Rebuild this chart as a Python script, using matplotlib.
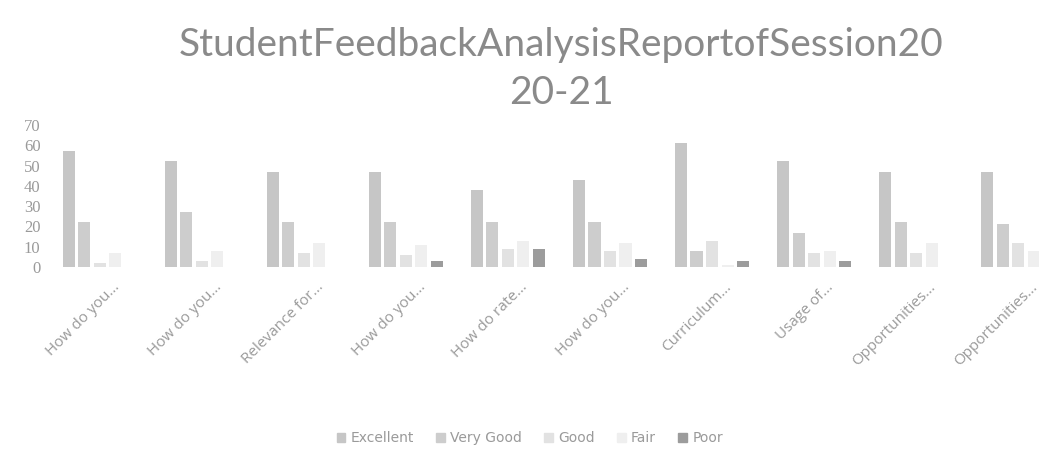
#!/usr/bin/env python3
import matplotlib
matplotlib.use("Agg")

import numpy as np
import matplotlib.pyplot as plt
from matplotlib.patches import Patch

categories = ["How do you...", "How do you...", "Relevance for...", "How do you...",
              "How do rate...", "How do you...", "Curriculum...", "Usage of...",
              "Opportunities...", "Opportunities..."]
excellent = [57, 52, 47, 47, 38, 43, 61, 52, 47, 47]
very_good = [22, 27, 22, 22, 22, 22, 8, 17, 22, 21]
good = [2, 3, 7, 6, 9, 8, 13, 7, 7, 12]
fair = [7, 8, 12, 11, 13, 12, 1, 8, 12, 8]
poor = [0, 0, 0, 3, 9, 4, 3, 3, 0, 0]

series = ["Excellent", "Very Good", "Good", "Fair", "Poor"]
values = [excellent, very_good, good, fair, poor]
colors = ["#c6c6c6", "#cdcdcd", "#e2e2e2", "#efefef", "#9c9c9c"]
text_col = "#9a9a9a"

fig = plt.figure(figsize=(10.39, 4.59), dpi=100)
ax = fig.add_axes([0.047, 0.418, 0.982, 0.31])

x = np.arange(len(categories))
step = 0.152
width = 0.118
for i, (name, vals, col) in enumerate(zip(series, values, colors)):
    ax.bar(x + (i - 2) * step, vals, width, color=col, label=name)

ax.set_xlim(-0.5, len(categories) - 0.5)
ax.set_ylim(0, 70)
ax.set_yticks(range(0, 71, 10))
# labels sit a bit right of the group centre in the original
ax.set_xticks(x + 0.12)
ax.set_xticklabels(categories, rotation=45, ha="right", rotation_mode="anchor",
                   fontsize=11, color=text_col, family="Open Sans")
for lbl in ax.get_yticklabels():
    lbl.set_family("Liberation Serif")
    lbl.set_fontsize(12)
    lbl.set_color(text_col)
ax.tick_params(length=0, pad=6)
ax.tick_params(axis="x", pad=9)
for s in ax.spines.values():
    s.set_visible(False)

fig.text(0.54, 0.85, "StudentFeedbackAnalysisReportofSession20\n20-21",
         ha="center", va="center", fontsize=28, color="#8a8a8a",
         family="Lato", linespacing=1.4)

handles = [Patch(color=c, label=n) for n, c in zip(series, colors)]
leg = fig.legend(handles=handles, loc="center", bbox_to_anchor=(0.51, 0.045),
                 ncol=5, frameon=False, fontsize=10, handlelength=0.6,
                 handleheight=0.6, handletextpad=0.4, columnspacing=1.6)
for t in leg.get_texts():
    t.set_color(text_col)

fig.savefig("out.png", dpi=100)
